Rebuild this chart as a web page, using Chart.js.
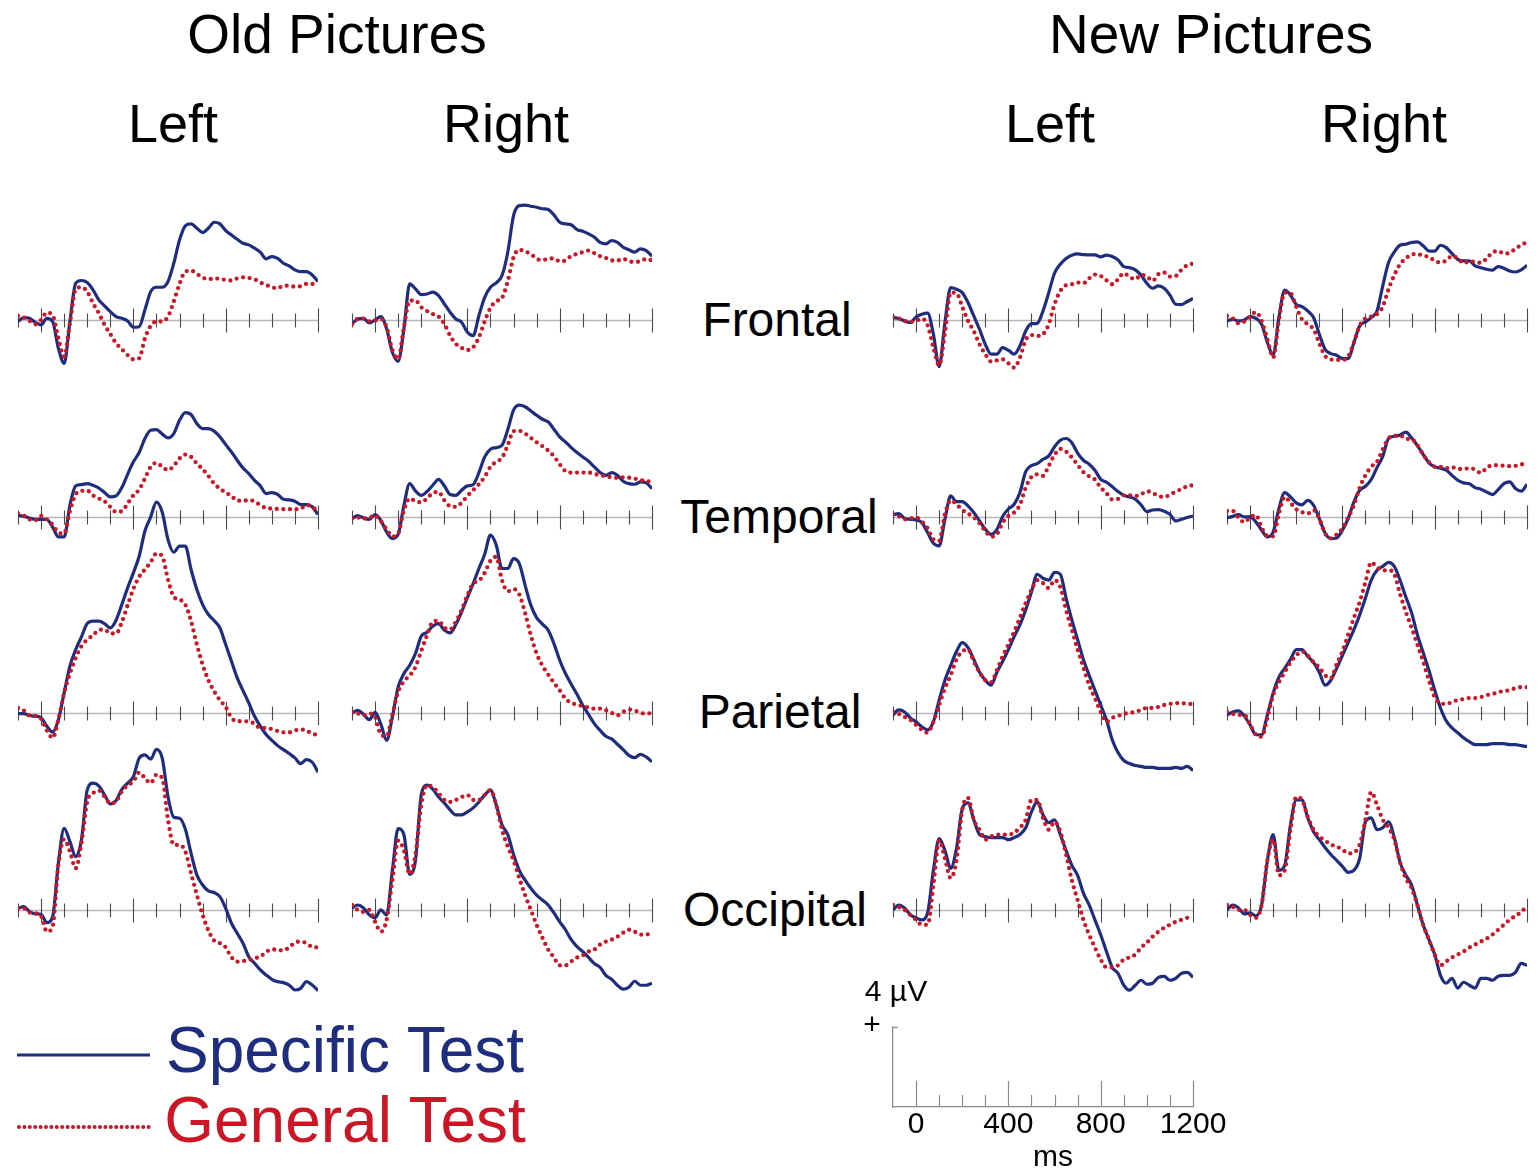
<!DOCTYPE html>
<html>
<head>
<meta charset="utf-8">
<script src="https://cdn.jsdelivr.net/npm/chart.js@4.4.1/dist/chart.umd.min.js"></script>
<style>
  body { margin: 0; background: #fff; width: 1537px; height: 1172px; position: relative; overflow: hidden;
         font-family: "Liberation Sans", Arial, Helvetica, sans-serif; }
  .txt { position: absolute; white-space: nowrap; line-height: 1; transform: translateX(-50%); }
  canvas { position: absolute; }
</style>
</head>
<body>
<svg style="position:absolute;left:0;top:0" width="170" height="1172">
  <line x1="17" y1="1055" x2="150" y2="1055" stroke="#1f2d7e" stroke-width="3"/>
  <line x1="19" y1="1127" x2="150" y2="1127" stroke="#cc1525" stroke-width="4" stroke-linecap="round" stroke-dasharray="0 5.4"/>
</svg>
<canvas id="scaleBar"></canvas>
<script>
// ========== DATA ==========
const times = [-100, -75, -50, -25, 0, 25, 50, 75, 100, 125, 150, 175, 200, 225, 250, 275, 300, 325, 350, 375,
  400, 425, 450, 475, 500, 525, 550, 575, 600, 625, 650, 675, 700, 725, 750, 775, 800, 825, 850, 875,
  900, 925, 950, 975, 1000, 1025, 1050, 1075, 1100, 1125, 1150, 1175, 1200];
const tickTimes = [-100, 0, 100, 200, 300, 400, 500, 600, 700, 800, 900, 1000, 1100, 1200];
const longTicks = [0, 400, 800, 1200];
const scaleLabels = [0, 400, 800, 1200];

// Frontal
const oldLeftFrontalSpecific = [-0.08, 0.12, 0.08, -0.13, -0.25, 0.08, -0.08, -1.43, -2.19, -0.08,
  1.85, 1.99, 1.89, 1.52, 1.01, 0.71, 0.42, 0.17, 0.08, -0.05,
  -0.37, -0.34, 0.51, 1.43, 1.65, 1.65, 1.94, 2.86, 4.04, 4.75,
  4.85, 4.63, 4.41, 4.63, 4.93, 4.85, 4.51, 4.29, 4.07, 3.87,
  3.79, 3.62, 3.42, 3.08, 3.20, 3.11, 2.86, 2.73, 2.53, 2.44,
  2.44, 2.27, 1.94];
const oldLeftFrontalGeneral = [0.20, 0.13, -0.05, -0.22, 0, 0.37, 0.25, -0.93, -1.85, -0.17,
  1.55, 1.65, 1.43, 0.84, 0.34, -0.25, -0.71, -1.18, -1.48, -1.77,
  -1.99, -1.94, -0.93, -0.30, -0.08, -0.08, 0.17, 0.93, 1.82, 2.44,
  2.49, 2.32, 2.14, 2.05, 2.10, 2.07, 2.02, 1.99, 2.10, 2.15,
  2.12, 2.05, 1.89, 1.77, 1.65, 1.60, 1.73, 1.72, 1.68, 1.70,
  1.82, 1.82, 1.77];
const oldRightFrontalSpecific = [-0.20, 0.05, 0.08, -0.15, 0, 0.17, -0.45, -1.63, -2.09, -0.45,
  1.82, 1.57, 1.28, 1.31, 1.40, 1.23, 0.81, 0.39, 0.05, -0.12,
  -0.62, -0.79, 0.22, 1.14, 1.65, 1.87, 2.24, 3.42, 5.27, 5.77,
  5.79, 5.74, 5.69, 5.61, 5.57, 5.30, 4.93, 4.85, 4.81, 4.56,
  4.48, 4.34, 4.18, 3.92, 3.84, 4.01, 3.92, 3.67, 3.54, 3.42,
  3.59, 3.50, 3.22];
const oldRightFrontalGeneral = [-0.20, 0.05, 0.07, -0.07, -0.03, 0.05, -0.37, -1.52, -1.97, -0.37,
  0.98, 0.98, 0.64, 0.45, 0.30, 0.17, -0.20, -0.79, -1.21, -1.41,
  -1.52, -1.38, -0.88, -0.07, 0.61, 0.94, 1.11, 1.95, 3.16, 3.54,
  3.45, 3.33, 3.08, 3.03, 3.08, 3.11, 2.96, 3.00, 3.23, 3.33,
  3.42, 3.50, 3.37, 3.22, 3.13, 3.00, 3.00, 3.08, 2.96, 2.93,
  2.96, 3.08, 3.00];
const newLeftFrontalSpecific = [0.12, 0.07, -0.05, -0.13, 0.15, 0.29, 0.34, -0.72, -2.36, -0.13,
  1.63, 1.55, 1.38, 0.88, 0.20, -0.47, -1.23, -1.73, -1.73, -1.40,
  -1.53, -1.73, -1.31, -0.56, -0.19, -0.17, 0.45, 1.38, 2.36, 2.81,
  3.10, 3.27, 3.33, 3.30, 3.28, 3.28, 3.18, 3.27, 3.20, 3.03,
  2.69, 2.64, 2.53, 2.26, 1.85, 1.60, 1.72, 1.60, 1.25, 0.79,
  0.77, 0.93, 1.08];
const newLeftFrontalGeneral = [0.15, 0.08, -0.05, -0.10, -0.05, 0.07, -0.27, -1.40, -2.29, -0.64,
  1.38, 1.35, 0.67, -0.05, -0.56, -1.23, -1.73, -2.10, -2.04, -1.99,
  -2.19, -2.41, -1.90, -1.01, -0.76, -0.81, -0.72, -0.22, 0.79, 1.46,
  1.75, 1.80, 1.89, 1.85, 2.10, 2.29, 2.22, 2.00, 1.80, 2.05,
  2.36, 2.17, 2.05, 2.27, 2.19, 1.97, 2.31, 2.39, 2.19, 2.22,
  2.53, 2.76, 2.85];
const newRightFrontalSpecific = [-0.05, 0.03, -0.05, 0, 0.17, 0.08, -0.22, -1.14, -1.78, 0.12,
  1.50, 1.25, 0.79, 0.67, 0.45, 0.12, -0.72, -1.48, -1.70, -1.78,
  -1.95, -1.95, -1.14, -0.30, -0.10, 0.12, 0.45, 1.72, 2.90, 3.43,
  3.77, 3.82, 3.91, 3.94, 3.74, 3.48, 3.47, 3.77, 3.65, 3.35,
  3.06, 2.98, 2.98, 2.73, 2.64, 2.56, 2.51, 2.69, 2.61, 2.47,
  2.42, 2.53, 2.76];
const newRightFrontalGeneral = [0.20, 0.08, -0.17, -0.08, 0.15, 0.40, -0.05, -0.98, -1.90, 0,
  1.38, 1.35, 0.66, 0.03, -0.22, -0.47, -1.18, -1.82, -1.99, -2.02,
  -2.02, -1.85, -1.14, -0.30, 0.08, 0.17, 0.29, 0.67, 1.55, 2.26,
  2.81, 3.10, 3.30, 3.33, 3.23, 3.18, 2.98, 2.90, 3.00, 3.23,
  3.10, 2.86, 2.96, 2.93, 2.88, 3.10, 3.40, 3.48, 3.35, 3.38,
  3.60, 3.77, 3.94];

// Temporal
const oldLeftTemporalSpecific = [0.08, 0.03, -0.05, -0.12, -0.12, -0.13, -0.51, -1.01, -1.01, 0.59,
  1.57, 1.63, 1.68, 1.60, 1.46, 1.23, 1.01, 1.06, 1.48, 2.15,
  2.78, 3.25, 3.96, 4.38, 4.41, 4.18, 3.99, 4.21, 4.88, 5.27,
  5.17, 4.71, 4.46, 4.46, 4.33, 4.04, 3.65, 3.28, 2.86, 2.47,
  2.19, 1.85, 1.57, 1.18, 1.23, 1.14, 0.89, 0.86, 0.79, 0.62,
  0.62, 0.51, 0.12];
const oldLeftTemporalGeneral = [0.17, 0.07, -0.12, -0.17, 0.05, -0.12, -0.39, -0.79, -0.84, 0.30,
  1.14, 1.31, 1.33, 1.09, 0.93, 0.79, 0.51, 0.25, 0.29, 0.67,
  1.09, 1.38, 1.94, 2.53, 2.73, 2.53, 2.36, 2.58, 2.95, 3.15,
  3.03, 2.69, 2.41, 2.07, 1.68, 1.43, 1.23, 1.06, 0.82, 0.82,
  0.84, 0.79, 0.59, 0.45, 0.42, 0.40, 0.39, 0.39, 0.39, 0.42,
  0.59, 0.52, 0.25];
const oldRightTemporalSpecific = [-0.08, 0.07, -0.05, -0.12, 0.12, -0.17, -0.76, -1.09, -0.88, 0.59,
  1.68, 1.31, 1.09, 1.28, 1.60, 1.90, 1.57, 1.13, 1.09, 1.35,
  1.57, 1.63, 2.24, 3.03, 3.42, 3.50, 3.62, 4.41, 5.39, 5.64,
  5.56, 5.35, 5.13, 4.93, 4.80, 4.43, 4.04, 3.79, 3.50, 3.25,
  3.03, 2.81, 2.53, 2.24, 2.10, 2.24, 2.10, 1.80, 1.68, 1.65,
  1.77, 1.72, 1.43];
const oldRightTemporalGeneral = [-0.08, -0.03, -0.08, -0.05, 0.07, -0.22, -0.62, -0.98, -0.84, 0.34,
  0.93, 0.79, 0.74, 0.93, 1.21, 1.26, 0.84, 0.54, 0.51, 0.72,
  1.06, 1.35, 1.65, 2.02, 2.53, 2.78, 2.98, 3.62, 4.33, 4.34,
  4.21, 3.99, 3.77, 3.57, 3.35, 3.06, 2.66, 2.31, 2.24, 2.24,
  2.24, 2.24, 2.17, 2.10, 2.05, 2.00, 1.97, 2.00, 1.98, 1.94,
  1.85, 1.84, 1.68];
const newLeftTemporalSpecific = [0.10, 0.17, -0.07, -0.12, -0.15, -0.29, -0.79, -1.33, -1.46, -0.12,
  1.06, 0.77, 0.77, 0.56, 0.22, -0.20, -0.62, -0.88, -0.64, 0.02,
  0.40, 0.64, 1.23, 2.29, 2.59, 2.69, 2.91, 3.08, 3.54, 3.87,
  3.96, 3.75, 3.22, 2.86, 2.66, 2.36, 1.90, 1.75, 1.53, 1.28,
  1.09, 1.01, 0.89, 0.61, 0.27, 0.35, 0.37, 0.29, 0.13, -0.20,
  -0.12, -0.03, 0.05];
const newLeftTemporalGeneral = [0.13, 0.03, -0.12, -0.08, -0.03, -0.24, -0.57, -1.13, -1.21, 0.13,
  0.84, 0.64, 0.35, 0.17, -0.03, -0.32, -0.71, -0.99, -0.88, -0.29,
  0.05, 0.22, 0.61, 1.48, 2.02, 2.15, 2.07, 2.58, 3.13, 3.43,
  3.30, 3.00, 2.63, 2.26, 2.05, 1.89, 1.48, 1.20, 0.88, 0.91,
  1.09, 1.09, 1.06, 1.14, 1.30, 1.21, 1.06, 1.01, 1.11, 1.28,
  1.40, 1.55, 1.60];
const newRightTemporalSpecific = [-0.05, 0.03, 0.12, 0, 0, -0.25, -0.67, -1.01, -0.76, 0.42,
  1.23, 1.01, 0.71, 0.61, 0.84, 0.59, -0.08, -0.81, -1.09, -1.06,
  -0.67, -0.08, 0.76, 1.35, 1.55, 1.89, 2.49, 3.06, 3.96, 4.07,
  4.14, 4.28, 3.99, 3.60, 3.16, 2.73, 2.53, 2.46, 2.36, 2.10,
  1.85, 1.72, 1.67, 1.48, 1.40, 1.26, 1.13, 1.38, 1.68, 1.77,
  1.43, 1.30, 1.65];
const newRightTemporalGeneral = [0.30, 0.30, -0.03, -0.27, -0.03, 0.10, -0.54, -0.96, -0.98, 0.17,
  1.01, 0.71, 0.39, 0.24, 0.17, 0.34, -0.08, -0.84, -1.08, -0.89,
  -0.57, -0.03, 0.59, 1.48, 2.10, 2.53, 2.78, 3.42, 3.96, 4.09,
  4.11, 3.94, 3.92, 3.62, 3.15, 2.76, 2.54, 2.53, 2.46, 2.51,
  2.42, 2.42, 2.46, 2.39, 2.22, 2.47, 2.61, 2.61, 2.58, 2.56,
  2.58, 2.66, 2.61];

// Parietal
const oldLeftParietalSpecific = [-0.03, -0.03, -0.13, -0.17, -0.24, -0.67, -0.96, -0.34, 1.01, 2.36,
  3.20, 3.84, 4.51, 4.63, 4.63, 4.51, 4.29, 4.68, 5.47, 6.31,
  7.07, 7.91, 9.18, 9.90, 10.64, 10.13, 8.75, 8.11, 8.42, 8.42,
  7.24, 6.23, 5.47, 4.97, 4.66, 4.29, 3.45, 2.61, 1.77, 1.13,
  0.51, -0.17, -0.67, -1.09, -1.38, -1.65, -1.85, -2.05, -2.27, -2.56,
  -2.36, -2.49, -2.99];
const oldLeftParietalGeneral = [0.25, 0.12, -0.13, -0.15, -0.30, -0.88, -1.26, -0.34, 1.01, 1.99,
  2.78, 3.37, 3.70, 3.92, 4.18, 4.21, 4.01, 4.01, 4.58, 5.44,
  6.26, 6.87, 7.24, 7.61, 8.05, 7.91, 6.73, 5.86, 5.72, 5.47,
  4.63, 3.45, 2.44, 1.65, 1.09, 0.64, 0.30, -0.25, -0.42, -0.42,
  -0.44, -0.54, -0.76, -0.76, -0.82, -0.91, -0.98, -0.98, -0.88, -0.84,
  -0.88, -1.06, -1.09];
const oldRightParietalSpecific = [0, 0.13, -0.07, -0.34, 0.03, -0.57, -1.38, -0.20, 1.31, 1.99,
  2.41, 3.00, 3.87, 4.07, 4.38, 4.51, 4.18, 4.04, 4.46, 5.10,
  5.82, 6.53, 7.29, 8.01, 8.97, 8.47, 7.29, 7.29, 7.79, 7.54,
  6.45, 5.44, 4.81, 4.48, 4.18, 3.50, 2.66, 1.99, 1.45, 0.94,
  0.39, -0.08, -0.54, -0.88, -1.18, -1.31, -1.58, -1.85, -2.14, -2.26,
  -2.09, -2.22, -2.47];
const oldRightParietalGeneral = [0.05, -0.03, -0.12, -0.03, -0.20, -1.09, -1.18, -0.07, 1.06, 1.60,
  1.89, 2.32, 3.13, 3.92, 4.60, 4.65, 4.31, 4.21, 4.60, 5.19,
  5.94, 6.53, 6.67, 7.07, 7.68, 7.88, 6.70, 6.14, 6.25, 5.98,
  5.05, 3.92, 3.00, 2.39, 1.94, 1.52, 1.14, 0.72, 0.51, 0.42,
  0.34, 0.27, 0.22, 0.22, 0.13, 0, -0.12, 0.05, 0.17, 0.13,
  0, -0.03, 0];
const newLeftParietalSpecific = [-0.1, 0.15, 0.05, -0.25, -0.45, -0.7, -0.85, -0.45, 0.65, 1.65,
  2.4, 3.1, 3.55, 3.3, 2.7, 2.05, 1.65, 1.4, 2.05, 2.6,
  3.2, 3.85, 4.45, 5.2, 6.1, 7.0, 6.8, 6.7, 7.1, 7.0,
  5.8, 4.7, 3.7, 2.7, 1.9, 1.15, 0.4, -0.35, -1.35, -2.0,
  -2.4, -2.55, -2.65, -2.7, -2.75, -2.75, -2.8, -2.8, -2.8, -2.75,
  -2.8, -2.7, -2.9];
const newLeftParietalGeneral = [0.05, -0.05, -0.2, -0.35, -0.6, -0.85, -1.0, -0.45, 0.4, 1.25,
  1.9, 2.7, 3.1, 3.2, 2.6, 2.05, 1.65, 1.55, 2.15, 2.85,
  3.45, 4.1, 4.8, 5.55, 6.2, 6.7, 6.55, 6.3, 6.7, 6.35,
  5.2, 4.2, 3.2, 2.3, 1.4, 0.75, 0.05, -0.45, -0.25, -0.15,
  -0.05, 0, 0.05, 0.15, 0.25, 0.25, 0.3, 0.4, 0.45, 0.5,
  0.5, 0.45, 0.45];
const newRightParietalSpecific = [-0.1, 0.05, 0.1, -0.15, -0.6, -1.1, -1.1, -0.1, 1.0, 1.8,
  2.25, 2.7, 3.2, 3.2, 2.85, 2.55, 2.05, 1.4, 1.65, 2.25,
  2.9, 3.55, 4.2, 4.95, 5.8, 6.7, 7.2, 7.4, 7.6, 7.4,
  6.7, 5.85, 5.05, 3.95, 3.05, 2.15, 1.15, 0.25, -0.4, -0.75,
  -1.0, -1.25, -1.45, -1.6, -1.6, -1.6, -1.55, -1.55, -1.55, -1.6,
  -1.6, -1.65, -1.7];
const newRightParietalGeneral = [0.05, -0.05, -0.1, -0.1, -0.6, -1.1, -1.2, -0.25, 0.9, 1.55,
  2.05, 2.55, 2.9, 3.1, 2.9, 2.55, 2.3, 1.9, 1.75, 2.45,
  3.1, 3.95, 4.8, 5.6, 6.6, 7.6, 7.35, 7.2, 7.2, 7.0,
  6.0, 5.1, 4.3, 3.45, 2.6, 1.65, 0.8, 0.5, 0.45, 0.55,
  0.65, 0.7, 0.75, 0.75, 0.8, 0.9, 0.95, 1.05, 1.1, 1.15,
  1.25, 1.3, 1.3];

// Occipital
const oldLeftOccipitalSpecific = [0.08, 0.17, -0.08, -0.20, -0.22, -0.64, -0.34, 2.36, 4.12, 3.45,
  2.69, 3.54, 6.06, 6.40, 6.26, 5.81, 5.35, 5.52, 6.09, 6.40,
  6.73, 7.66, 7.83, 7.61, 8.11, 7.66, 5.72, 4.68, 4.63, 4.08,
  2.86, 1.77, 1.26, 0.96, 0.88, 0.67, 0.08, -0.67, -1.18, -1.68,
  -2.36, -2.69, -3.03, -3.28, -3.50, -3.62, -3.67, -3.79, -4.04, -3.96,
  -3.62, -3.79, -4.07];
const oldLeftOccipitalGeneral = [0.08, 0.08, -0.13, -0.17, -0.30, -1.1, -0.84, 2.27, 3.57, 2.95,
  2.10, 3.37, 5.47, 5.89, 6.03, 5.72, 5.39, 5.47, 5.98, 6.29,
  6.48, 6.94, 6.65, 6.40, 6.82, 6.65, 4.55, 3.28, 3.28, 2.95,
  1.85, 0.76, -0.25, -1.04, -1.55, -1.68, -1.89, -2.39, -2.61, -2.58,
  -2.53, -2.44, -2.36, -2.12, -1.99, -2.02, -2.05, -1.89, -1.65, -1.60,
  -1.68, -1.87, -1.89];
const oldRightOccipitalSpecific = [0.10, 0.25, 0.10, -0.25, -0.40, 0, -0.25, 2.0, 4.1, 3.8,
  1.8, 2.5, 5.8, 6.3, 6.1, 5.7, 5.4, 5.05, 4.8, 4.8,
  4.95, 5.15, 5.45, 5.8, 6.05, 5.3, 4.3, 3.8, 2.8, 2.0,
  1.5, 1.1, 0.75, 0.5, 0.25, -0.15, -0.6, -1.0, -1.5, -1.85,
  -2.1, -2.4, -2.7, -2.9, -3.3, -3.5, -3.8, -4.0, -3.9, -3.6,
  -3.8, -3.8, -3.7];
const oldRightOccipitalGeneral = [0.25, 0, -0.1, 0, -0.6, -1.1, -0.5, 1.5, 3.5, 3.0,
  1.8, 2.8, 5.3, 6.3, 6.2, 5.9, 5.55, 5.45, 5.55, 5.7,
  5.8, 5.55, 5.55, 5.8, 6.05, 5.3, 4.05, 3.2, 2.5, 1.6,
  0.75, 0, -0.75, -1.4, -2.0, -2.4, -2.8, -2.8, -2.6, -2.4,
  -2.3, -2.1, -2.0, -1.75, -1.6, -1.5, -1.35, -1.15, -1.0, -1.1,
  -1.25, -1.25, -1.1];
const newLeftOccipitalSpecific = [0, 0.25, 0.1, -0.25, -0.4, -0.5, -0.15, 2.0, 3.6, 3.0,
  2.1, 3.1, 5.1, 5.4, 4.55, 3.8, 3.7, 3.65, 3.65, 3.65,
  3.55, 3.65, 3.8, 4.15, 4.95, 5.45, 4.8, 4.4, 4.55, 3.8,
  3.0, 2.25, 1.75, 0.85, 0.25, -0.5, -1.25, -2.1, -2.9, -3.2,
  -3.8, -4.05, -3.8, -3.55, -3.75, -3.7, -3.4, -3.35, -3.55, -3.45,
  -3.2, -3.15, -3.4];
const newLeftOccipitalGeneral = [0.25, 0.15, 0, -0.25, -0.5, -0.75, -0.75, 1.25, 3.5, 2.6,
  1.6, 2.5, 5.05, 5.65, 4.55, 4.05, 3.55, 3.7, 3.8, 3.8,
  3.8, 3.9, 4.15, 4.55, 5.55, 5.55, 4.65, 4.05, 4.45, 3.95,
  2.8, 1.5, 0.5, -0.5, -1.25, -1.9, -2.5, -2.9, -2.9, -2.8,
  -2.5, -2.4, -2.25, -1.9, -1.65, -1.35, -1.1, -0.9, -0.75, -0.6,
  -0.5, -0.4, -0.4];
const newRightOccipitalSpecific = [0, 0.25, 0.1, -0.2, -0.15, -0.3, 0.25, 2.5, 3.8, 2.0,
  2.25, 4.3, 5.55, 5.55, 4.65, 3.95, 3.55, 3.15, 2.8, 2.5,
  2.2, 1.9, 2.0, 2.6, 4.45, 4.65, 4.05, 4.15, 4.45, 3.65,
  2.4, 1.75, 1.25, 0.25, -0.75, -1.5, -2.25, -3.3, -3.7, -3.45,
  -3.95, -3.65, -3.8, -3.95, -3.45, -3.45, -3.55, -3.35, -3.3, -3.3,
  -3.15, -2.7, -2.8];
const newRightOccipitalGeneral = [0.25, 0.15, 0, 0, -0.25, -0.4, 0.25, 2.5, 3.55, 1.75,
  2.0, 4.05, 5.7, 5.55, 4.7, 4.05, 3.7, 3.5, 3.3, 3.2,
  3.05, 2.85, 2.9, 3.3, 4.55, 5.95, 5.3, 4.55, 4.15, 3.55,
  2.4, 1.6, 1.1, 0.25, -0.75, -1.5, -2.25, -2.8, -2.6, -2.4,
  -2.25, -2.1, -1.9, -1.75, -1.6, -1.45, -1.25, -1.0, -0.75, -0.5,
  -0.3, -0.1, 0.2];

// ========== LAYOUT ==========
const BLUE = '#1f2d7e';
const RED = '#cc1525';
const FONT = '"Liberation Sans", Arial, Helvetica, sans-serif';

const colLeft = { oldLeft: 18.3, oldRight: 352.3, newLeft: 892.7, newRight: 1226.7 };
const rowBase = { frontal: 320, temporal: 517, parietal: 713, occipital: 910 };

const panels = [
  ['oldLeft', 'frontal', oldLeftFrontalSpecific, oldLeftFrontalGeneral],
  ['oldRight', 'frontal', oldRightFrontalSpecific, oldRightFrontalGeneral],
  ['newLeft', 'frontal', newLeftFrontalSpecific, newLeftFrontalGeneral],
  ['newRight', 'frontal', newRightFrontalSpecific, newRightFrontalGeneral],
  ['oldLeft', 'temporal', oldLeftTemporalSpecific, oldLeftTemporalGeneral],
  ['oldRight', 'temporal', oldRightTemporalSpecific, oldRightTemporalGeneral],
  ['newLeft', 'temporal', newLeftTemporalSpecific, newLeftTemporalGeneral],
  ['newRight', 'temporal', newRightTemporalSpecific, newRightTemporalGeneral],
  ['oldLeft', 'parietal', oldLeftParietalSpecific, oldLeftParietalGeneral],
  ['oldRight', 'parietal', oldRightParietalSpecific, oldRightParietalGeneral],
  ['newLeft', 'parietal', newLeftParietalSpecific, newLeftParietalGeneral],
  ['newRight', 'parietal', newRightParietalSpecific, newRightParietalGeneral],
  ['oldLeft', 'occipital', oldLeftOccipitalSpecific, oldLeftOccipitalGeneral],
  ['oldRight', 'occipital', oldRightOccipitalSpecific, oldRightOccipitalGeneral],
  ['newLeft', 'occipital', newLeftOccipitalSpecific, newLeftOccipitalGeneral],
  ['newRight', 'occipital', newRightOccipitalSpecific, newRightOccipitalGeneral]
];

const PLOT_W = 300, PAD = 10, Y_MIN = -5, Y_MAX = 11, UV_PX = 19.8;
const PLOT_H = Math.round((Y_MAX - Y_MIN) * UV_PX);

// baseline with tick marks across it
const baselineTicks = {
  id: 'baselineTicks',
  beforeDatasetsDraw(chart) {
    const { ctx, scales: { x, y } } = chart;
    const y0 = Math.round(y.getPixelForValue(0)) + 0.5;
    ctx.save();
    ctx.strokeStyle = '#b8b8b8';
    ctx.lineWidth = 1.3;
    ctx.beginPath();
    ctx.moveTo(x.getPixelForValue(-100), y0);
    ctx.lineTo(x.getPixelForValue(1200), y0);
    ctx.stroke();
    ctx.strokeStyle = '#4a4a4a';
    ctx.lineWidth = 1.1;
    tickTimes.forEach(t => {
      const px = Math.round(x.getPixelForValue(t)) + 0.5;
      const len = longTicks.includes(t) ? 12 : 7;
      ctx.beginPath();
      ctx.moveTo(px, y0 - len);
      ctx.lineTo(px, y0 + len);
      ctx.stroke();
    });
    ctx.restore();
  }
};

function makePanel([col, row, specific, general]) {
  const c = document.createElement('canvas');
  const w = PLOT_W + 2 * PAD, h = PLOT_H + 2 * PAD;
  c.width = w; c.height = h;
  c.style.width = w + 'px'; c.style.height = h + 'px';
  c.style.left = (colLeft[col] - PAD) + 'px';
  c.style.top = (rowBase[row] - PAD - Y_MAX * PLOT_H / (Y_MAX - Y_MIN)) + 'px';
  document.body.appendChild(c);
  new Chart(c, {
    type: 'line',
    data: {
      datasets: [{
        label: 'General Test',
        data: times.map((t, i) => ({ x: t, y: general[i] })),
        borderColor: RED,
        borderWidth: 4.3,
        borderDash: [0, 6.6],
        borderCapStyle: 'round',
        pointRadius: 0,
        cubicInterpolationMode: 'monotone'
      }, {
        label: 'Specific Test',
        data: times.map((t, i) => ({ x: t, y: specific[i] })),
        borderColor: BLUE,
        borderWidth: 3.2,
        pointRadius: 0,
        cubicInterpolationMode: 'monotone'
      }]
    },
    options: {
      responsive: false,
      animation: false,
      events: [],
      layout: { padding: PAD },
      plugins: { legend: { display: false }, tooltip: { enabled: false } },
      scales: {
        x: { type: 'linear', min: -100, max: 1200, display: false },
        y: { min: Y_MIN, max: Y_MAX, display: false }
      }
    },
    plugins: [baselineTicks]
  });
}
panels.forEach(makePanel);

// ========== SCALE BAR ==========
const upTicks = {
  id: 'upTicks',
  afterDraw(chart) {
    const { ctx, scales: { x, y } } = chart;
    const y0 = y.getPixelForValue(0);
    ctx.save();
    ctx.strokeStyle = '#8a8a8a';
    ctx.lineWidth = 1.2;
    tickTimes.forEach(t => {
      if (t < 0) return;
      const px = Math.round(x.getPixelForValue(t)) + 0.5;
      const len = longTicks.includes(t) ? 26 : 12;
      ctx.beginPath();
      ctx.moveTo(px, y0);
      ctx.lineTo(px, y0 - len);
      ctx.stroke();
    });
    const top = y.getPixelForValue(4), left = x.getPixelForValue(-100);
    ctx.beginPath();
    ctx.moveTo(left, top + 0.5);
    ctx.lineTo(left + 5, top + 0.5);
    ctx.stroke();
    ctx.restore();
  }
};

const sb = document.getElementById('scaleBar');
sb.width = 390; sb.height = 150;
sb.style.width = '390px'; sb.style.height = '150px';
sb.style.left = (colLeft.newLeft - 40) + 'px';
sb.style.top = '1022px';
new Chart(sb, {
  type: 'line',
  data: { datasets: [] },
  options: {
    responsive: false,
    animation: false,
    events: [],
    layout: { padding: { top: 5, right: 50, left: 0, bottom: 0 } },
    plugins: { legend: { display: false }, tooltip: { enabled: false } },
    scales: {
      x: {
        type: 'linear', min: -100, max: 1200,
        ticks: {
          stepSize: 100, autoSkip: false, maxRotation: 0, padding: 0,
          color: '#000', font: { size: 30, family: FONT },
          callback: v => scaleLabels.includes(v) ? String(v) : ''
        },
        grid: { display: false, drawTicks: false },
        border: { color: '#8a8a8a', width: 1.2 },
        afterFit: s => { s.height = 65; s.paddingLeft = 0; s.paddingRight = 0; }
      },
      y: {
        min: 0, max: 4,
        ticks: { display: false },
        grid: { display: false, drawTicks: false },
        border: { color: '#8a8a8a', width: 1.2 },
        afterFit: s => { s.width = 40; }
      }
    }
  },
  plugins: [upTicks]
});

// ========== TEXT ==========
function addText(text, cx, baseline, size, color) {
  const d = document.createElement('div');
  d.className = 'txt';
  d.textContent = text;
  d.style.fontSize = size + 'px';
  d.style.color = color || '#000';
  d.style.left = cx + 'px';
  d.style.top = (baseline - 0.8465 * size) + 'px';
  document.body.appendChild(d);
}
addText('Old Pictures', 337, 54, 55);
addText('New Pictures', 1211, 54, 55);
addText('Left', 173, 142, 54);
addText('Right', 506, 142, 54);
addText('Left', 1050, 142, 54);
addText('Right', 1384, 142, 54);
addText('Frontal', 777, 337, 48);
addText('Temporal', 779, 534, 48);
addText('Parietal', 780, 729, 48);
addText('Occipital', 775, 927, 48);
addText('Specific Test', 345, 1072, 64, BLUE);
addText('General Test', 345, 1142, 64, RED);
addText('4 \u00B5V', 896, 1001, 30);
addText('+', 872, 1034, 30);
addText('ms', 1053, 1166, 30);
</script>
</body>
</html>
